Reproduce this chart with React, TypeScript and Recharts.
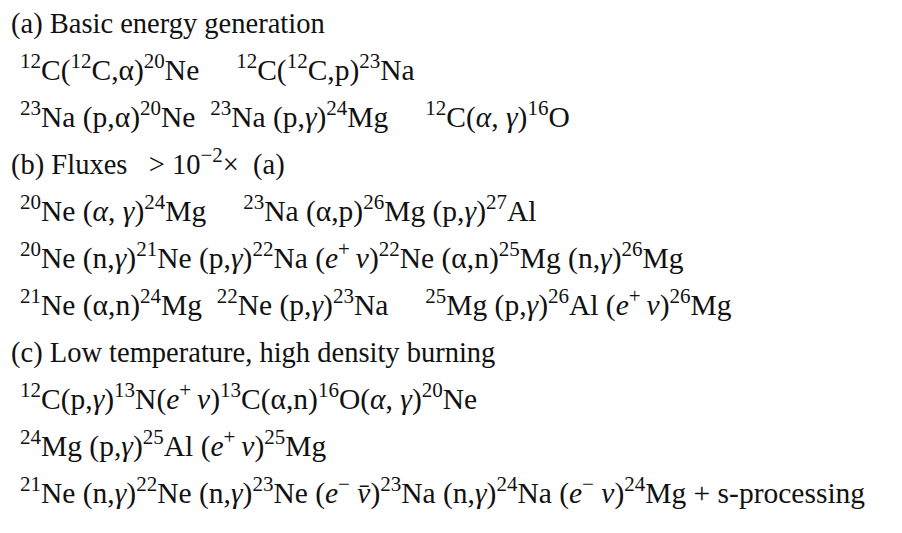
import React from "react";
import { ScatterChart, Scatter, XAxis, YAxis } from "recharts";

// Markup: ^{...} = superscript, *...* = italic
const sectionA = [
  "(a) Basic energy generation",
  "^{12}C(^{12}C,α)^{20}Ne     ^{12}C(^{12}C,p)^{23}Na",
  "^{23}Na (p,α)^{20}Ne  ^{23}Na (p,*γ*)^{24}Mg     ^{12}C(*α*, *γ*)^{16}O",
];
const sectionB = [
  "(b) Fluxes   > 10^{−2}×  (a)",
  "^{20}Ne (*α*, *γ*)^{24}Mg     ^{23}Na (α,p)^{26}Mg (p,*γ*)^{27}Al",
  "^{20}Ne (n,*γ*)^{21}Ne (p,*γ*)^{22}Na (*e*^{+}\u2009*v*)^{22}Ne (α,n)^{25}Mg (n,*γ*)^{26}Mg",
  "^{21}Ne (α,n)^{24}Mg  ^{22}Ne (p,*γ*)^{23}Na     ^{25}Mg (p,*γ*)^{26}Al (*e*^{+}\u2009*v*)^{26}Mg",
];
const sectionC = [
  "(c) Low temperature, high density burning",
  "^{12}C(p,*γ*)^{13}N(*e*^{+}\u2009*v*)^{13}C(α,n)^{16}O(*α*, *γ*)^{20}Ne",
  "^{24}Mg (p,*γ*)^{25}Al (*e*^{+}\u2009*v*)^{25}Mg",
  "^{21}Ne (n,*γ*)^{22}Ne (n,*γ*)^{23}Ne (*e*^{−} *v̄*)^{23}Na (n,*γ*)^{24}Na (*e*^{−} *v*)^{24}Mg + s-processing",
];

const allLines = [...sectionA, ...sectionB, ...sectionC];
const data = allLines.map((text, i) => ({
  x: text.startsWith("(") ? 0 : 1,
  y: i,
  text,
}));

type Seg = { t: string; sup: boolean; it: boolean };

function parse(s: string): Seg[] {
  const out: Seg[] = [];
  let cur = "";
  let sup = false;
  let it = false;
  const flush = () => {
    if (cur) out.push({ t: cur, sup, it });
    cur = "";
  };
  let i = 0;
  while (i < s.length) {
    if (s[i] === "^" && s[i + 1] === "{") {
      flush();
      sup = true;
      i += 2;
    } else if (s[i] === "}" && sup) {
      flush();
      sup = false;
      i += 1;
    } else if (s[i] === "*") {
      flush();
      it = !it;
      i += 1;
    } else {
      cur += s[i];
      i += 1;
    }
  }
  flush();
  return out;
}

const HEAD_FS = 28.5;
const FS = 29.5;
const SFS = 21;
const RAISE = 12;

const LineShape = (props: any) => {
  const { cx, cy, payload } = props;
  if (cx == null || cy == null) return null;
  const segs = parse(payload.text);
  const isHead = payload.x === 0;
  const main = isHead ? HEAD_FS : FS;
  let prevSup = false;
  return (
    <text
      x={cx}
      y={cy}
      xmlSpace="preserve"
      style={{ whiteSpace: "pre" }}
      fontFamily="'Liberation Serif', 'Times New Roman', serif"
      fontSize={main}
      fill="#111"
    >
      {segs.map((sg, k) => {
        let dy = 0;
        if (sg.sup !== prevSup) dy = sg.sup ? -RAISE : RAISE;
        prevSup = sg.sup;
        return (
          <tspan
            key={k}
            dy={dy}
            fontSize={sg.sup ? SFS : main}
            fontStyle={sg.it ? "italic" : "normal"}
          >
            {sg.t}
          </tspan>
        );
      })}
    </text>
  );
};

export default function App() {
  return (
    <div style={{ position: "absolute", left: 0, top: 0, width: 902, height: 533, background: "#fff" }}>
      <ScatterChart
        width={902}
        height={533}
        margin={{ top: 33, right: 882, bottom: 30, left: 11 }}
      >
        <XAxis type="number" dataKey="x" domain={[0, 1]} hide />
        <YAxis type="number" dataKey="y" domain={[0, 10]} reversed hide />
        <Scatter data={data} isAnimationActive={false} shape={LineShape} />
      </ScatterChart>
    </div>
  );
}
